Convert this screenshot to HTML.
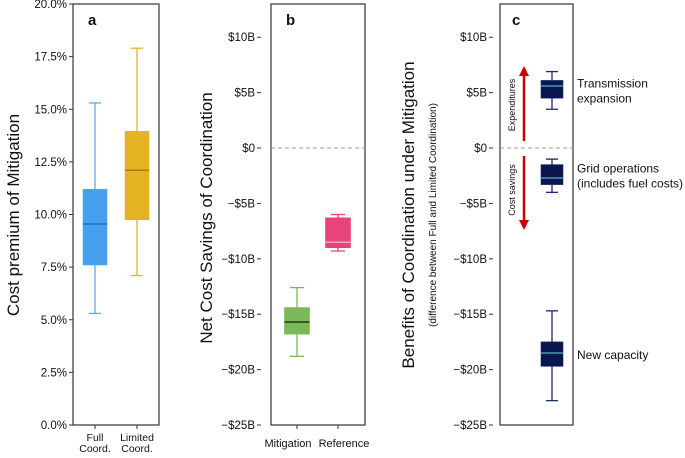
<!DOCTYPE html>
<html><head><meta charset="utf-8"><style>
body{margin:0;background:#fff}
svg{font-family:"Liberation Sans",sans-serif}
</style></head><body>
<svg id="chart" width="685" height="453" viewBox="0 0 685 453" xmlns="http://www.w3.org/2000/svg"></svg>
<script>
// Panel a data
const aCategories=["Full|Coord.","Limited|Coord."];
const aLow=[5.3,7.1];
const aQ1=[7.6,9.75];
const aMed=[9.55,12.1];
const aQ3=[11.2,13.95];
const aHigh=[15.3,17.9];
const aTicks=[0,2.5,5,7.5,10,12.5,15,17.5,20];
// Panel b data
const bCategories=["Mitigation","Reference"];
const bLow=[-18.8,-9.3];
const bQ1=[-16.8,-9.0];
const bMed=[-15.7,-8.5];
const bQ3=[-14.4,-6.3];
const bHigh=[-12.6,-6.0];
// Panel c data
const cCategories=["Transmission|expansion","Grid operations|(includes fuel costs)","New capacity"];
const cLow=[3.5,-4.0,-22.8];
const cQ1=[4.5,-3.3,-19.7];
const cMed=[5.6,-2.7,-18.5];
const cQ3=[6.1,-1.5,-17.5];
const cHigh=[6.9,-1.0,-14.7];
const bTicks=[10,5,0,-5,-10,-15,-20,-25];

const svg=document.getElementById('chart');
const NS="http://www.w3.org/2000/svg";
function mk(tag,at,parent){const e=document.createElementNS(NS,tag);for(const k in at)e.setAttribute(k,at[k]);(parent||svg).appendChild(e);return e;}
const yTop=4,bot=425;
const ya=v=>bot-(v/20)*(bot-yTop);
const yb=v=>bot-((v+25)/38)*(bot-yTop);
function fmtB(v){return v===0?"$0":(v<0?"\u2212$"+(-v)+"B":"$"+v+"B");}

function frame(x0,x1,name){
  const r=mk('rect',{x:x0,y:yTop,width:x1-x0,height:bot-yTop,fill:'none',stroke:'#333','stroke-width':1.2});
  
  
}
function yTicks(x0,off,ticks,yf,fmt,name){
  const g=mk('g',{});
  
  
  ticks.forEach(t=>{
    const y=yf(t);
    mk('line',{x1:x0-off-4,x2:x0-off,y1:y,y2:y,stroke:'#333'},g);
    const tx=mk('text',{x:x0-off-6,y:y+4,'text-anchor':'end','font-size':11.5,fill:'#111'},g);
    tx.textContent=fmt(t);
  });
}
function box(cx,w,lo,q1,med,q3,hi,yf,fill,wcol,mcol,name,cap){
  const g=mk('g',{});
  
  
  mk('line',{x1:cx,x2:cx,y1:yf(hi),y2:yf(q3),stroke:wcol,'stroke-width':1.3},g);
  mk('line',{x1:cx,x2:cx,y1:yf(q1),y2:yf(lo),stroke:wcol,'stroke-width':1.3},g);
  mk('line',{x1:cx-cap,x2:cx+cap,y1:yf(hi),y2:yf(hi),stroke:wcol,'stroke-width':1.3},g);
  mk('line',{x1:cx-cap,x2:cx+cap,y1:yf(lo),y2:yf(lo),stroke:wcol,'stroke-width':1.3},g);
  mk('rect',{x:cx-w/2,y:yf(q3),width:w,height:yf(q1)-yf(q3),fill:fill,stroke:wcol,'stroke-width':0.6},g);
  mk('line',{x1:cx-w/2,x2:cx+w/2,y1:yf(med),y2:yf(med),stroke:mcol,'stroke-width':1.5},g);
}
function label(x,y,txt,size,name,anchor,weight){
  const t=mk('text',{x:x,y:y,'font-size':size,'text-anchor':anchor||'middle',fill:'#111','font-weight':weight||'normal'});
  t.textContent=txt;
  
  
  return t;
}
function vlabel(x,y,txt,size,name){
  const t=mk('text',{x:0,y:0,'font-size':size,'text-anchor':'middle',fill:'#111',transform:`translate(${x},${y}) rotate(-90)`});
  t.textContent=txt;
  
  
}

// Panel a
frame(73,159,'panel-a-frame');
yTicks(73,0,aTicks,ya,v=>v.toFixed(1)+"%",'panel-a-y-ticks');
const aX=[95,137],aFill=['#449fec','#e3b324'],aW=['#5aaaf0','#e3b324'],aM=['#1a6fd0','#a87a10'];
aCategories.forEach((c,i)=>{
  box(aX[i],24,aLow[i],aQ1[i],aMed[i],aQ3[i],aHigh[i],ya,aFill[i],aW[i],aM[i],'box-a-'+i,6);
  mk('line',{x1:aX[i],x2:aX[i],y1:bot,y2:bot+4,stroke:'#333'});
  const p=c.split('|');
  label(aX[i],441,p[0],10.5,'x-label-a-'+i);
  label(aX[i],452,p[1],10.5,'x-label-a-'+i+'-2');
});
label(88,25,'a',15,'panel-a-letter','start','bold');
vlabel(19,215,'Cost premium of Mitigation',17,'panel-a-y-title');

// Panel b
frame(271,365,'panel-b-frame');
yTicks(271,10,bTicks,yb,fmtB,'panel-b-y-ticks');
mk('line',{x1:271,x2:365,y1:yb(0),y2:yb(0),stroke:'#999','stroke-dasharray':'4,3'});
const bX=[297,338],bLX=[288,344],bFill=['#7ab85a','#e8437a'],bW=['#7ab85a','#e8437a'],bM=['#1e3a10','#f7a6c0'];
bCategories.forEach((c,i)=>{
  box(bX[i],25,bLow[i],bQ1[i],bMed[i],bQ3[i],bHigh[i],yb,bFill[i],bW[i],bM[i],'box-b-'+i,7);
  mk('line',{x1:bX[i],x2:bX[i],y1:bot,y2:bot+4,stroke:'#333'});
  label(bLX[i],447,c,11,'x-label-b-'+i);
});
label(286,25,'b',15,'panel-b-letter','start','bold');
vlabel(212,218,'Net Cost Savings of Coordination',17,'panel-b-y-title');

// Panel c
frame(500,573,'panel-c-frame');
yTicks(500,7,bTicks,yb,fmtB,'panel-c-y-ticks');
mk('line',{x1:500,x2:573,y1:yb(0),y2:yb(0),stroke:'#999','stroke-dasharray':'4,3'});
cCategories.forEach((c,i)=>{
  box(552,22,cLow[i],cQ1[i],cMed[i],cQ3[i],cHigh[i],yb,'#0a1550','#1a2a6a','#4a9aa8','box-c-'+i,6);
  const p=c.split('|');
  const ym=yb((cQ1[i]+cQ3[i])/2);
  if(p.length>1){label(577,ym-2,p[0],12,'c-label-'+i,'start');label(577,ym+13,p[1],12,'c-label-'+i+'-2','start');}
  else label(577,ym+5,p[0],12,'c-label-'+i,'start');
});
label(512,25,'c',15,'panel-c-letter','start','bold');
vlabel(414,215,'Benefits of Coordination under Mitigation',17,'panel-c-y-title');
vlabel(436,215,'(difference between Full and Limited Coordination)',10,'panel-c-y-subtitle');
// arrows
const ga=mk('g',{});


mk('line',{x1:524,x2:524,y1:141,y2:74,stroke:'#cc0000','stroke-width':2.5},ga);
mk('polygon',{points:'524,66 519,76 529,76',fill:'#cc0000'},ga);
mk('line',{x1:524,x2:524,y1:156,y2:222,stroke:'#cc0000','stroke-width':2.5},ga);
mk('polygon',{points:'524,230 519,220 529,220',fill:'#cc0000'},ga);
vlabel(515,105,'Expenditures',9,'expenditures-label');
vlabel(515,190,'Cost savings',9,'cost-savings-label');
</script>
</body></html>
